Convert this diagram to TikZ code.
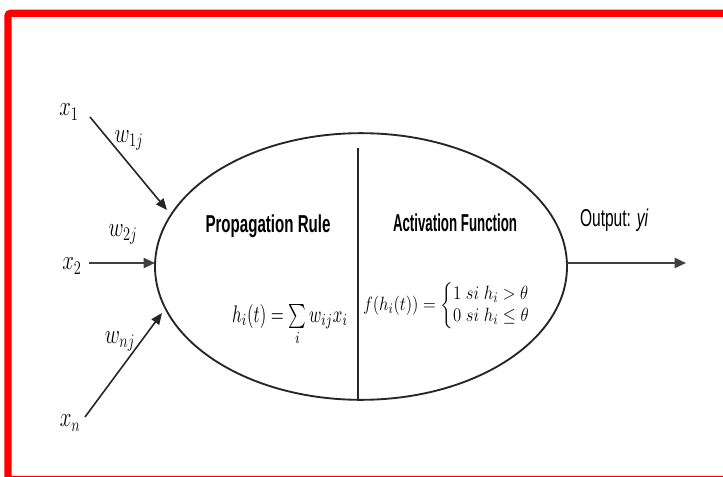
\documentclass[tikz,border=0pt]{standalone}
\usepackage{fontspec}
\usepackage{amsmath}
\usepackage{graphicx}
\usetikzlibrary{shapes.geometric,arrows.meta}
\newfontfamily\headfont{Liberation Sans}
\begin{document}
\begin{tikzpicture}[x=0.75pt,y=-0.75pt,
  lbl/.style={inner sep=0pt, font=\fontsize{21}{24}\selectfont},
  arrthick/.style={draw=black!75, line width=1.7pt, -{Triangle[length=8.5pt,width=7.5pt]}},
  arrthin/.style={draw=black!85, line width=1.2pt, -{Triangle[length=8.5pt,width=7pt]}},
  head/.style={inner sep=0pt, anchor=base},
  frame/.style={draw=red, line width=5.5pt, rounded corners=2pt}]
\path[use as bounding box] (0,0) rectangle (723,477);
\clip (0,0) rectangle (723,477);
\draw[frame] (8,13.3) rectangle (745,479.5);

% neuron body
\node[draw=black!85, line width=1.4pt, ellipse, minimum width=309pt, minimum height=200pt, inner sep=0pt] (neuron) at (361,266.5) {};
\coordinate (divtop) at (358,148);
\draw[line width=1pt, black!85] (divtop) -- (divtop |- neuron.south);

% headings
\node[head] (prop) at (268,232.7) {\resizebox{93.75pt}{13.3pt}{\headfont\bfseries Propagation Rule}};
\node[head] (act) at (455,231) {\resizebox{93pt}{13.3pt}{\headfont\bfseries Activation Function}};

% formulas
\node[head] (propf) at (290,322) {\resizebox{87pt}{13.5pt}{$h_i(t)=\sum\limits_i w_{ij}x_i$}};
\node[inner sep=0pt, font=\fontsize{15}{16.5}\selectfont] (actf) at (446.5,306) {\scalebox{0.87}[1]{$f(h_i(t))=\left\{\begin{array}{@{}l@{}}1\;si\;h_i>\theta\\0\;si\;h_i\le\theta\end{array}\right.$}};

% inputs
\node[lbl] (x1) at (69,112) {\scalebox{0.75}[1]{$x_1$}};
\node[lbl] (x2) at (72,266) {\scalebox{0.75}[1]{$x_2$}};
\node[lbl] (xn) at (70,423) {\scalebox{0.75}[1]{$x_n$}};
\node[lbl] (w1) at (129,140) {\scalebox{0.75}[1]{$w_{1j}$}};
\node[lbl] (w2) at (123,234) {\scalebox{0.75}[1]{$w_{2j}$}};
\node[lbl] (wn) at (120,341) {\scalebox{0.75}[1]{$w_{nj}$}};

\coordinate (s1) at (90,117);
\coordinate (t1) at (167,210);
\coordinate (s2) at (89,263);
\coordinate (t2) at (155,263);
\coordinate (sn) at (85,417);
\coordinate (tn) at (162,313);
\coordinate (so) at (567,263);
\coordinate (to) at (686,263);

\draw[arrthin] (s1) -- (t1);
\draw[arrthick] (s2) -- (t2);
\draw[arrthin] (sn) -- (tn);
\draw[arrthick] (so) -- (to);

% output label
\node[inner sep=0pt] (outl) at (614,220) {\resizebox*{51pt}{17pt}{\headfont Output: \itshape yi}};
\end{tikzpicture}
\end{document}
